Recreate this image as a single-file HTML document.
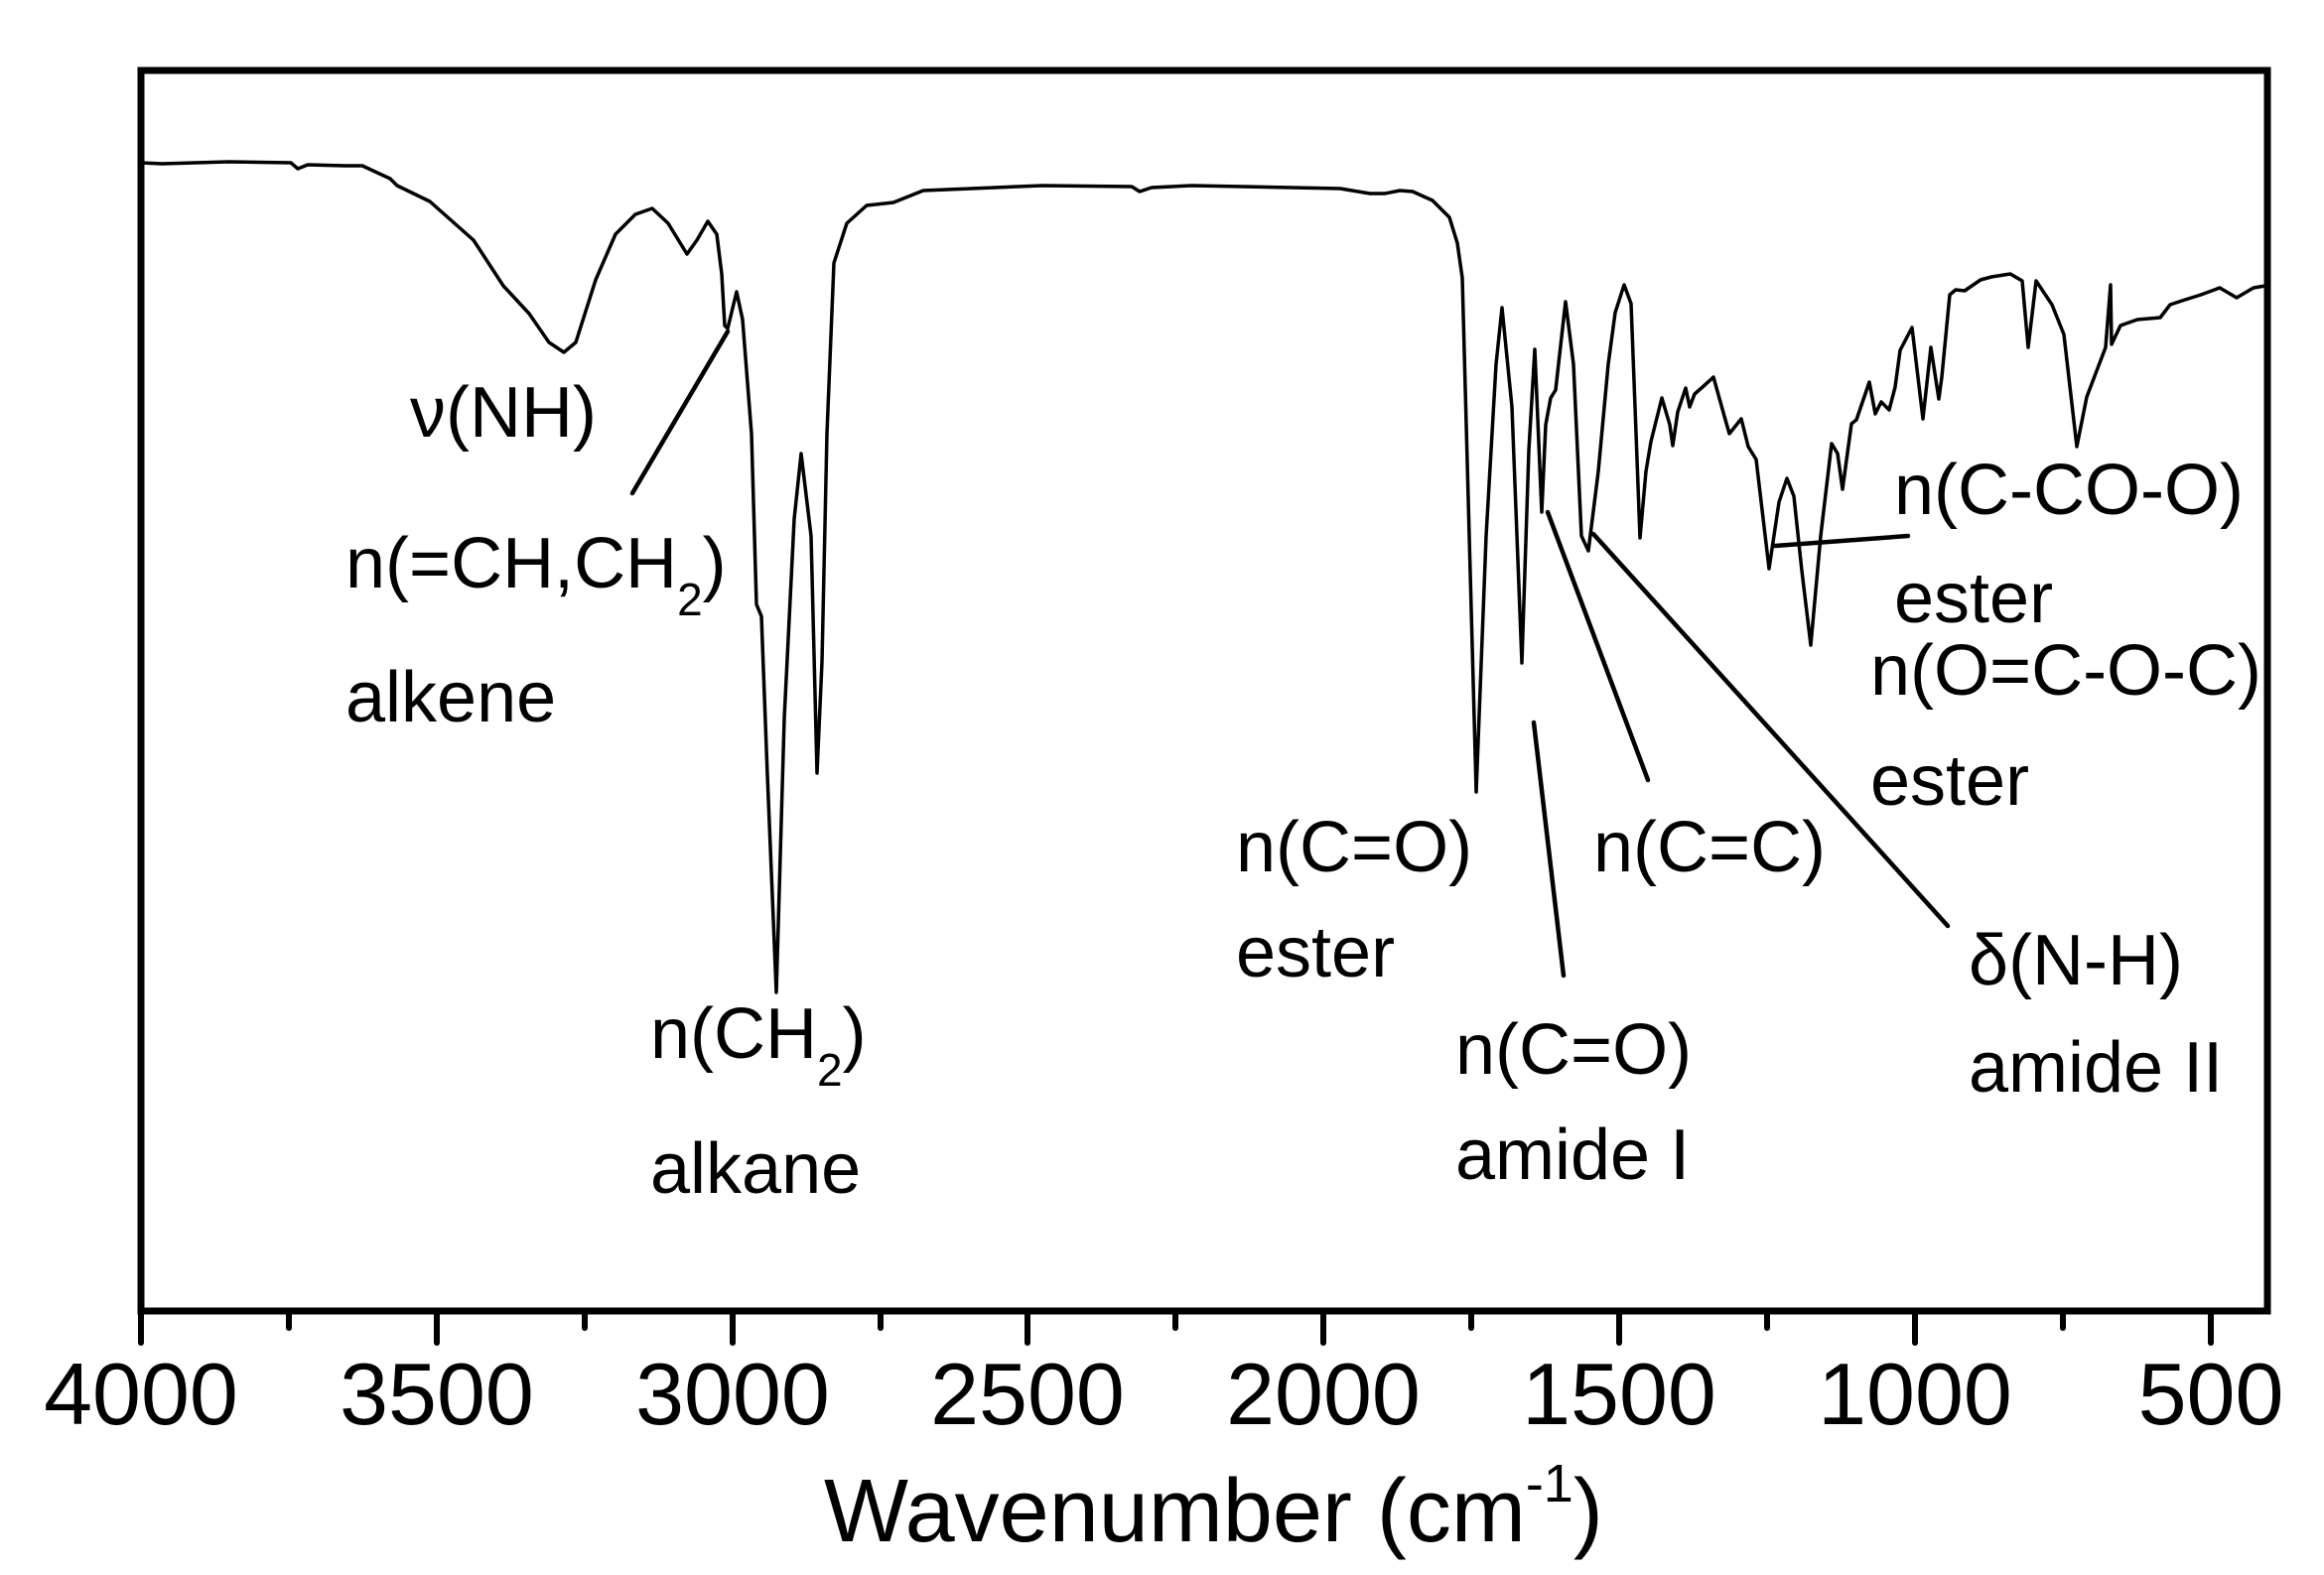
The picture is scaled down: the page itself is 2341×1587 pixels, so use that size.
<!DOCTYPE html>
<html><head><meta charset="utf-8"><style>
html,body{margin:0;padding:0;background:#fff;}
svg{display:block;}
text{font-family:"Liberation Sans",Arial,sans-serif;fill:#000;}
</style></head><body>
<svg width="2341" height="1587" viewBox="0 0 2341 1587" xmlns="http://www.w3.org/2000/svg">
<rect x="142" y="71" width="2142" height="1250" fill="none" stroke="#000" stroke-width="7"/>
<g stroke="#000" stroke-width="6" stroke-linecap="round">
<line x1="142" y1="1321" x2="142" y2="1353"/>
<line x1="291" y1="1321" x2="291" y2="1338"/>
<line x1="440" y1="1321" x2="440" y2="1353"/>
<line x1="589" y1="1321" x2="589" y2="1338"/>
<line x1="738" y1="1321" x2="738" y2="1353"/>
<line x1="887" y1="1321" x2="887" y2="1338"/>
<line x1="1035" y1="1321" x2="1035" y2="1353"/>
<line x1="1184" y1="1321" x2="1184" y2="1338"/>
<line x1="1333" y1="1321" x2="1333" y2="1353"/>
<line x1="1482" y1="1321" x2="1482" y2="1338"/>
<line x1="1631" y1="1321" x2="1631" y2="1353"/>
<line x1="1780" y1="1321" x2="1780" y2="1338"/>
<line x1="1929" y1="1321" x2="1929" y2="1353"/>
<line x1="2078" y1="1321" x2="2078" y2="1338"/>
<line x1="2227" y1="1321" x2="2227" y2="1353"/>
</g>
<g font-size="88" text-anchor="middle">
<text x="142" y="1435">4000</text>
<text x="440" y="1435">3500</text>
<text x="738" y="1435">3000</text>
<text x="1035" y="1435">2500</text>
<text x="1333" y="1435">2000</text>
<text x="1631" y="1435">1500</text>
<text x="1929" y="1435">1000</text>
<text x="2227" y="1435">500</text>
</g>
<text x="830" y="1553" font-size="90">Wavenumber (cm<tspan font-size="54" dy="-40">-1</tspan><tspan dy="40">)</tspan></text>

<polyline fill="none" stroke="#000" stroke-width="3.5" stroke-linejoin="round" points="
142,164 163,165 230,163 293,164 300,170 310,166 347,167 365,167 393,180 400,187 433,203 477,242 507,288 533,316 553,345 568,355 580,345 600,282 620,236 640,216 657,210 673,225 692,256 702,242 713,223 722,236 727,276 730,328 733,331 742,294 748,322 757,437 762,609 767,621 773,781 782,1000 790,724 800,523 807,457 817,540 823,779 828,667 833,437 840,265 853,225 873,207 900,204 930,192 1050,187 1140,188 1148,193 1160,189 1200,187 1350,190 1380,195 1395,195 1410,192 1423,193 1443,202 1460,219 1468,245 1473,280 1480,540 1487,798 1497,540 1507,367 1513,310 1523,410 1533,668 1540,454 1546,352 1553,516 1557,428 1562,401 1567,393 1577,304 1585,367 1593,540 1600,555 1610,475 1620,367 1627,315 1636,287 1643,306 1647,410 1652,542 1658,475 1663,445 1674,401 1682,428 1685,449 1690,415 1698,391 1702,410 1707,397 1715,390 1726,380 1738,423 1742,437 1754,422 1761,450 1769,463 1782,573 1792,506 1800,482 1807,500 1815,575 1824,650 1834,540 1845,447 1851,457 1856,493 1865,427 1870,423 1883,385 1889,417 1895,405 1903,413 1909,390 1914,353 1926,330 1937,422 1945,350 1953,402 1956,380 1964,297 1970,292 1979,293 1995,282 2006,279 2025,276 2037,283 2043,350 2051,283 2067,307 2079,337 2092,450 2102,400 2121,350 2126,287 2127,347 2136,328 2153,322 2176,320 2186,307 2198,303 2217,297 2236,290 2253,300 2270,290 2282,288"/>

<g stroke="#000" stroke-width="4.5" stroke-linecap="round">
<line x1="733" y1="334" x2="637" y2="497"/>
<line x1="1545" y1="728" x2="1575" y2="983"/>
<line x1="1559" y1="516" x2="1660" y2="786"/>
<line x1="1605" y1="538" x2="1962" y2="933"/>
<line x1="1788" y1="550" x2="1922" y2="540"/>
</g>

<g font-size="72">
<text x="413" y="440">ν(NH)</text>
<text x="348" y="592">n(=CH,CH<tspan font-size="46" dy="28">2</tspan><tspan dy="-28">)</tspan></text>
<text x="348" y="727">alkene</text>
<text x="655" y="1066">n(CH<tspan font-size="46" dy="28">2</tspan><tspan dy="-28">)</tspan></text>
<text x="655" y="1202">alkane</text>
<text x="1245" y="878">n(C=O)</text>
<text x="1245" y="984">ester</text>
<text x="1466" y="1082">n(C=O)</text>
<text x="1466" y="1188">amide I</text>
<text x="1605" y="878">n(C=C)</text>
<text x="1983" y="992">δ(N-H)</text>
<text x="1983" y="1100">amide II</text>
<text x="1908" y="518">n(C-CO-O)</text>
<text x="1908" y="627">ester</text>
<text x="1884" y="700">n(O=C-O-C)</text>
<text x="1884" y="811">ester</text>
</g>
</svg>
</body></html>
